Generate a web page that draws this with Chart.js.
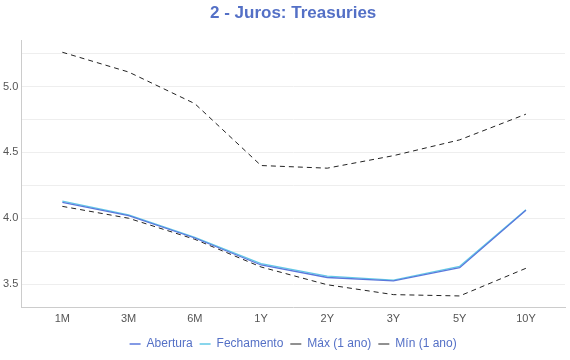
<!DOCTYPE html>
<html>
<head>
<meta charset="utf-8">
<script src="https://cdn.jsdelivr.net/npm/chart.js@4"></script>
<style>
  html, body { margin: 0; padding: 0; background: #fff; }
  #wrap { width: 570px; height: 360px; }
</style>
</head>
<body>
<div id="wrap"><canvas id="chart"></canvas></div>
<script>
const vencimentos = ['1M', '3M', '6M', '1Y', '2Y', '3Y', '5Y', '10Y'];
const abertura = [4.12, 4.02, 3.85, 3.645, 3.55, 3.525, 3.625, 4.06];
const fechamento = [4.13, 4.025, 3.855, 3.655, 3.56, 3.53, 3.635, 4.065];
const maxAno = [5.26, 5.11, 4.87, 4.40, 4.38, 4.475, 4.595, 4.79];
const minAno = [4.09, 4.00, 3.84, 3.63, 3.495, 3.42, 3.41, 3.62];
const yTicks = [3.5, 4.0, 4.5, 5.0];

const azul = '#5470c6';
const font = 'Liberation Sans, Arial, sans-serif';

function pontos(arr) {
    return arr.map((v, i) => ({ x: i, y: v }));
}

function serie(label, arr, cor, largura, dash) {
    return {
        label,
        data: pontos(arr),
        borderColor: cor,
        backgroundColor: cor,
        borderWidth: largura,
        borderDash: dash,
        pointRadius: 0,
        tension: 0,
        fill: false
    };
}

new Chart(document.getElementById('chart'), {
    type: 'line',
    data: {
        datasets: [
            serie('Abertura', abertura, '#5a78dc', 1.3, []),
            serie('Fechamento', fechamento, '#62c9e6', 1.3, []),
            serie('Máx (1 ano)', maxAno, '#222', 1, [5, 4]),
            serie('Mín (1 ano)', minAno, '#222', 1, [5, 4])
        ]
    },
    options: {
        responsive: true,
        maintainAspectRatio: false,
        animation: false,
        layout: { padding: { left: 0, right: 5, top: 0, bottom: 0 } },
        plugins: {
            title: {
                display: true,
                fullSize: false,
                text: '2 - Juros: Treasuries',
                color: azul,
                font: { family: font, size: 17, weight: 'bold' },
                padding: { top: 3, bottom: 17 }
            },
            legend: {
                position: 'bottom',
                fullSize: false,
                labels: {
                    color: azul,
                    font: { family: font, size: 12 },
                    usePointStyle: true,
                    pointStyle: 'line',
                    pointStyleWidth: 11,
                    boxWidth: 11,
                    boxHeight: 8,
                    padding: 7
                }
            },
            tooltip: { enabled: false }
        },
        scales: {
            x: {
                type: 'linear',
                min: -0.62,
                max: 7.59,
                grid: { display: false, drawTicks: false },
                border: { color: '#ccc' },
                ticks: {
                    stepSize: 1,
                    includeBounds: false,
                    color: '#555',
                    font: { family: font, size: 11 },
                    padding: 5,
                    callback: v => vencimentos[v] ?? ''
                }
            },
            y: {
                min: 3.32,
                max: 5.35,
                grid: { color: '#eeeeee', drawTicks: false },
                border: { color: '#ccc' },
                ticks: {
                    stepSize: 0.25,
                    includeBounds: false,
                    color: '#555',
                    font: { family: font, size: 11 },
                    padding: 3,
                    callback: v => yTicks.some(t => Math.abs(t - v) < 1e-6) ? v.toFixed(1) : ''
                }
            }
        }
    }
});
</script>
</body>
</html>
